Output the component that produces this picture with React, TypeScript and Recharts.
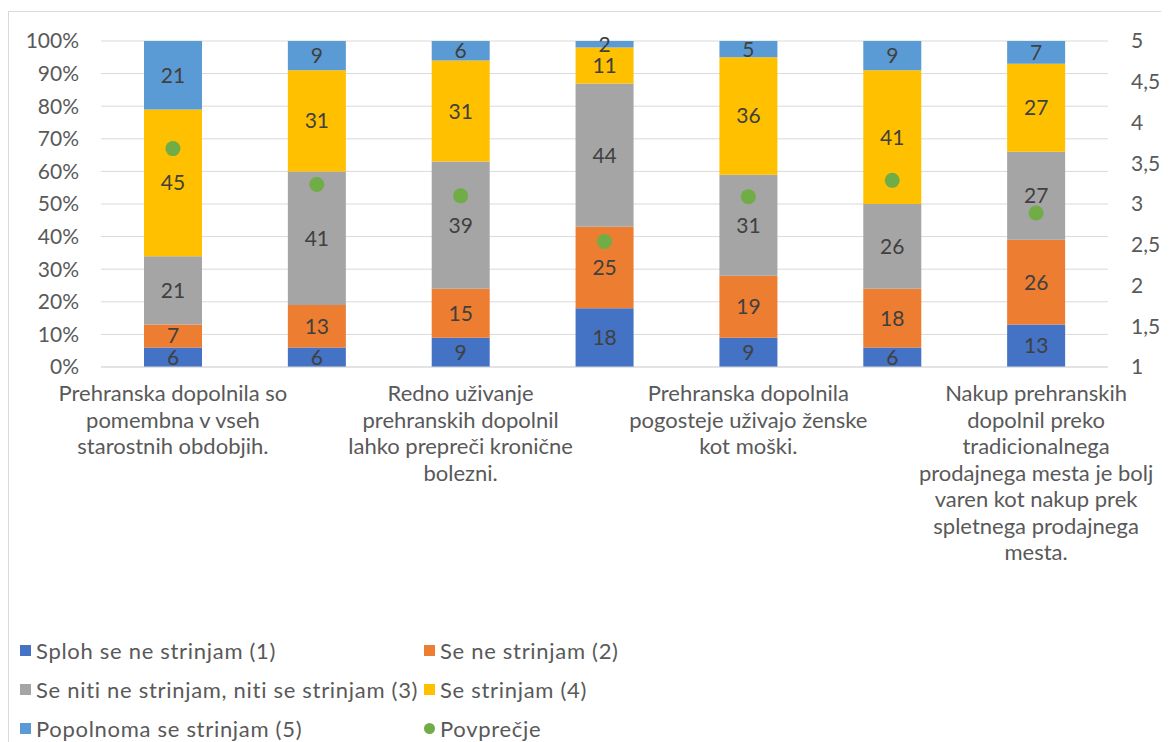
import { ComposedChart, Bar, Scatter, XAxis, YAxis, CartesianGrid, Legend, LabelList } from 'recharts';

const trditve = [
  'Prehranska dopolnila so\npomembna v vseh\nstarostnih obdobjih.',
  '',
  'Redno uživanje\nprehranskih dopolnil\nlahko prepreči kronične\nbolezni.',
  '',
  'Prehranska dopolnila\npogosteje uživajo ženske\nkot moški.',
  '',
  'Nakup prehranskih\ndopolnil preko\ntradicionalnega\nprodajnega mesta je bolj\nvaren kot nakup prek\nspletnega prodajnega\nmesta.',
];

const splohSeNe = [6, 6, 9, 18, 9, 6, 13];
const seNe = [7, 13, 15, 25, 19, 18, 26];
const niti = [21, 41, 39, 44, 31, 26, 27];
const seStrinjam = [45, 31, 31, 11, 36, 41, 27];
const popolnoma = [21, 9, 6, 2, 5, 9, 7];
const povprecje = [3.68, 3.24, 3.1, 2.54, 3.09, 3.29, 2.89];

const leftTicks = [0, 10, 20, 30, 40, 50, 60, 70, 80, 90, 100];
const rightTicks = [1, 1.5, 2, 2.5, 3, 3.5, 4, 4.5, 5];

const series = [
  { key: 's1', name: 'Sploh se ne strinjam (1)', color: '#4472c4' },
  { key: 's2', name: 'Se ne strinjam (2)', color: '#ed7d31' },
  { key: 's3', name: 'Se niti ne strinjam, niti se strinjam (3)', color: '#a5a5a5' },
  { key: 's4', name: 'Se strinjam (4)', color: '#ffc000' },
  { key: 's5', name: 'Popolnoma se strinjam (5)', color: '#5b9bd5' },
];
const avgColor = '#70ad47';

const data = trditve.map((t, i) => ({
  trditev: t,
  s1: splohSeNe[i],
  s2: seNe[i],
  s3: niti[i],
  s4: seStrinjam[i],
  s5: popolnoma[i],
  povprecje: povprecje[i],
}));

const FONT = 'Lato, sans-serif';

// excel-style wrapped category label
const CategoryTick = ({ x, y, payload }: any) => {
  const lines = String(payload.value).split('\n');
  return (
    <text x={x} y={y} textAnchor="middle" fill="#595959" fontSize={22} fontFamily={FONT}>
      {lines.map((l, i) => (
        <tspan key={i} x={x} y={y + 34 + i * 26.5}>
          {l}
        </tspan>
      ))}
    </text>
  );
};

const LegendBox = () => {
  const items = [
    ...series.map((s) => ({ name: s.name, color: s.color, circle: false })),
    { name: 'Povprečje', color: avgColor, circle: true },
  ];
  return (
    <div
      style={{
        display: 'grid',
        gridTemplateColumns: '404px 300px',
        fontFamily: FONT,
        fontSize: 22,
        letterSpacing: 0.7,
        color: '#595959',
      }}
    >
      {items.map((it) => (
        <div key={it.name} style={{ height: 39, display: 'flex', alignItems: 'center', whiteSpace: 'nowrap' }}>
          <span
            style={{
              display: 'inline-block',
              width: 11,
              height: 11,
              background: it.color,
              borderRadius: it.circle ? '50%' : 0,
              marginRight: 5,
            }}
          />
          {it.name}
        </div>
      ))}
    </div>
  );
};

export default function App() {
  return (
    <div style={{ position: 'relative', top: 3, width: 1200, height: 760, border: '1px solid #d9d9d9', fontFamily: FONT }}>
      <ComposedChart width={1160} height={730} data={data} margin={{ top: 29, right: 0, left: 0, bottom: 0 }} style={{ fontFamily: FONT }}>
        <CartesianGrid yAxisId="left" vertical={false} stroke="#d9d9d9" />
        <XAxis
          dataKey="trditev"
          height={375}
          interval={1}
          tickLine={false}
          tickSize={0}
          tickMargin={0}
          axisLine={{ stroke: '#d9d9d9' }}
          tick={<CategoryTick />}
        />
        <YAxis
          yAxisId="left"
          width={92}
          domain={[0, 100]}
          ticks={leftTicks}
          tickFormatter={(v) => `${v}%`}
          axisLine={false}
          tickLine={false}
          tickSize={0}
          tickMargin={22}
          tick={{ fill: '#595959', fontSize: 21, fontFamily: FONT }}
        />
        <YAxis
          yAxisId="right"
          orientation="right"
          width={61}
          domain={[1, 5]}
          ticks={rightTicks}
          tickFormatter={(v) => String(v).replace('.', ',')}
          axisLine={false}
          tickLine={false}
          tickSize={0}
          tickMargin={23}
          tick={{ fill: '#595959', fontSize: 21, fontFamily: FONT, textAnchor: 'start' }}
        />
        <Legend
          layout="vertical"
          verticalAlign="middle"
          align="center"
          content={<LegendBox />}
          wrapperStyle={{ position: 'absolute', top: 619, left: 11, width: 720 }}
        />
        {series.map((s) => (
          <Bar key={s.key} yAxisId="left" dataKey={s.key} name={s.name} stackId="a" fill={s.color} barSize={58} isAnimationActive={false}>
            <LabelList dataKey={s.key} position="center" fill="#404040" fontSize={21} fontFamily={FONT} />
          </Bar>
        ))}
        <Scatter
          yAxisId="right"
          dataKey="povprecje"
          name="Povprečje"
          fill={avgColor}
          isAnimationActive={false}
          shape={(p: any) => <circle cx={p.cx} cy={p.cy} r={7.5} fill={avgColor} />}
        />
      </ComposedChart>
    </div>
  );
}
